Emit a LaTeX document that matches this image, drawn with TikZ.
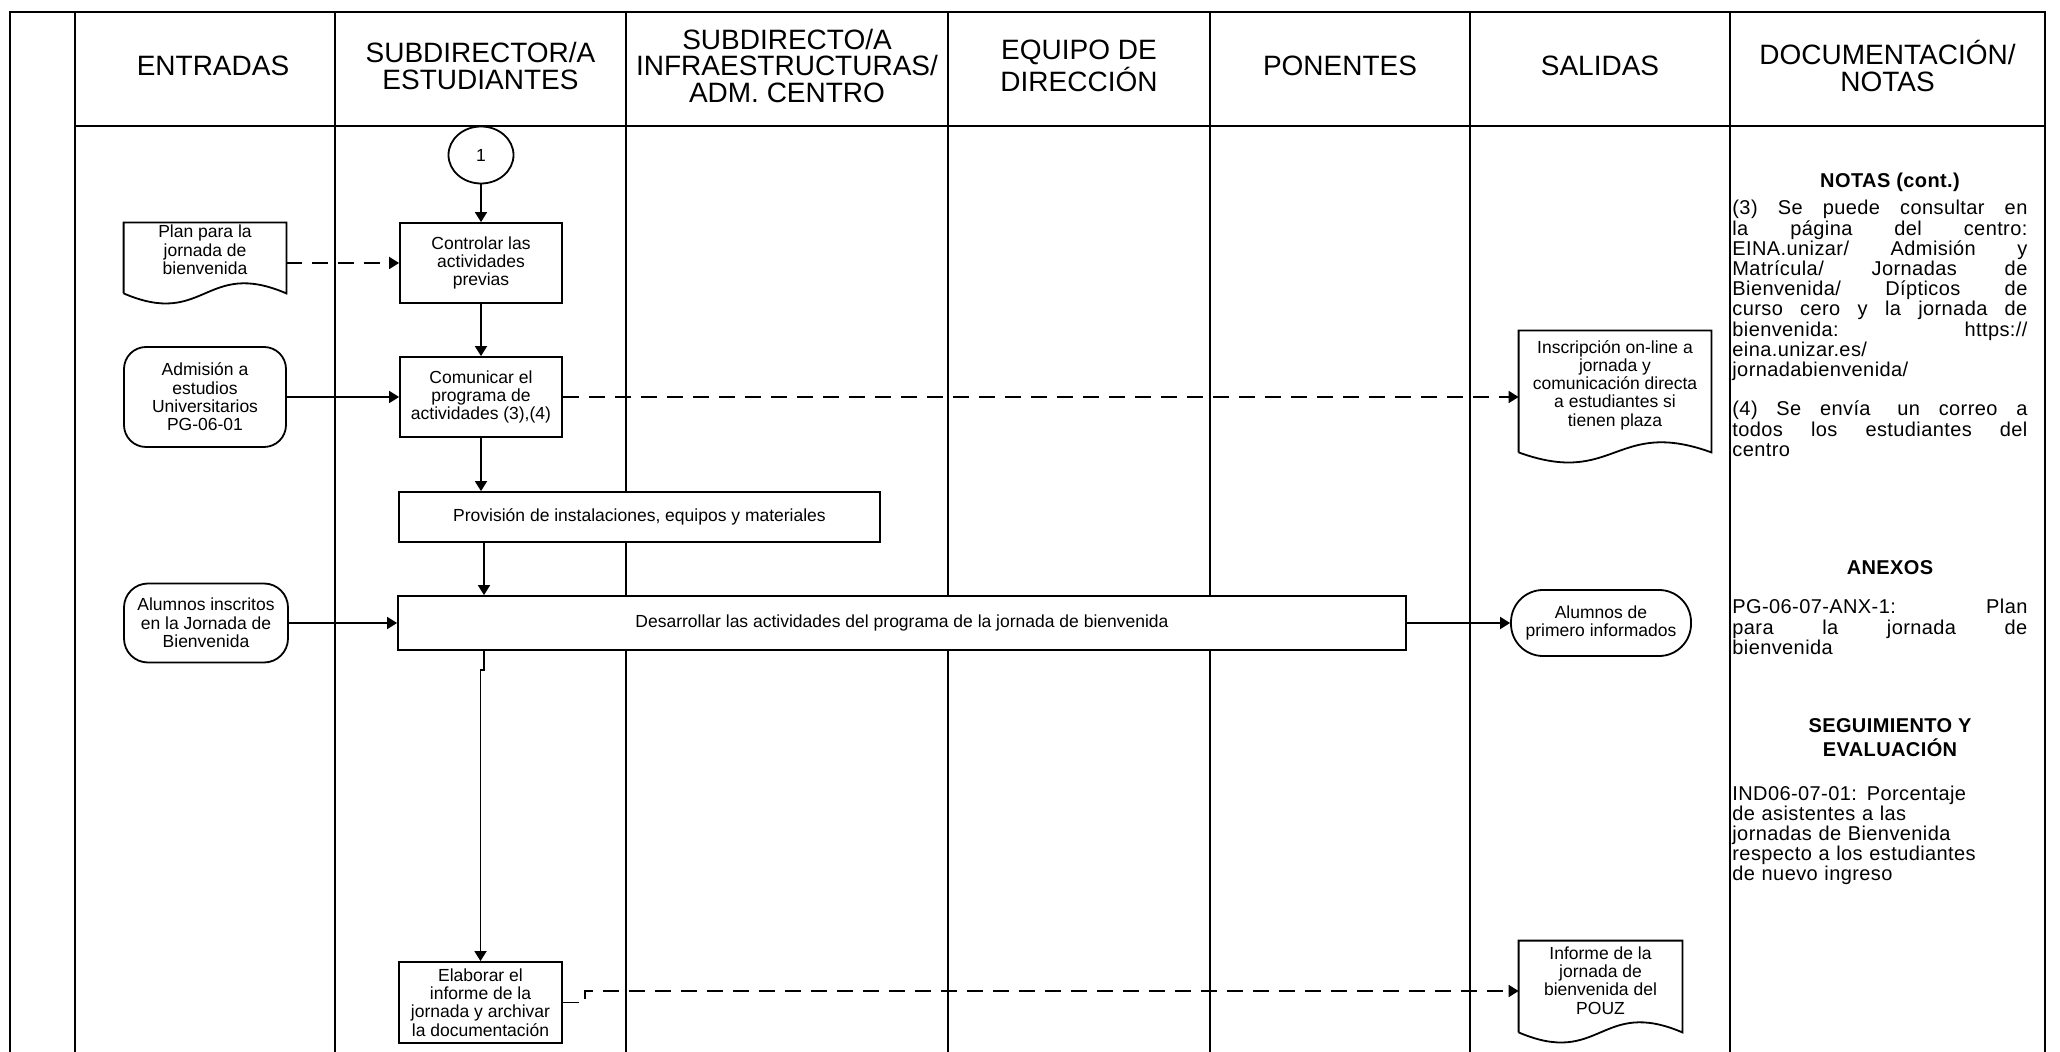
\documentclass[tikz,border=0pt]{standalone}
\usepackage{fontspec}
\setmainfont{Liberation Sans}
\newfontfamily\notesfamily[LetterSpace=2]{Liberation Sans}
\usetikzlibrary{arrows.meta,shapes.geometric}
\newcommand\hdrfnt{\fontsize{14}{13.2}\selectfont}
\newcommand\nodefnt{\fontsize{8.75}{9.15}\selectfont}
\newcommand\notefnt{\notesfamily\fontsize{10}{10.1}\selectfont}
\newcommand\jline[1]{\leavevmode\hbox to 147.5pt{#1}}
\begin{document}
\begin{tikzpicture}[x=0.5pt,y=-0.5pt,
  lane/.style={line width=1.3pt},
  box/.style={draw, fill=white, line width=0.9pt, align=center, font=\nodefnt, inner sep=1pt},
  rbox/.style={box, rounded corners=#1},
  docn/.style={align=center, font=\nodefnt, inner sep=1pt},
  docline/.style={line width=0.9pt},
  arr/.style={line width=0.9pt, -{Triangle[length=5pt,width=6pt]}},
  darr/.style={arr, dash pattern=on 8pt off 5pt},
  hdr/.style={align=center, font=\hdrfnt},
  note/.style={font=\notefnt, text width=147.5pt, align=left, inner sep=0pt, anchor=base west},
  notehd/.style={font=\notefnt\bfseries, inner sep=0pt, anchor=base}
]
\useasboundingbox (0,0) rectangle (2060,1052);
\fill[white] (0,0) rectangle (2060,1052);
% swimlane grid
\draw[lane] (10,1052) -- (10,12) -- (2045,12) -- (2045,1052);
\foreach \x in {75,335,626,948,1210,1470,1730} \draw[lane] (\x,12) -- (\x,1052);
\draw[lane] (75,126) -- (2045,126);
% headers
\node[hdr] (h1) at (213,66) {ENTRADAS};
\node[hdr] (h2) at (480.5,66) {SUBDIRECTOR/A\\ESTUDIANTES};
\node[hdr] (h3) at (787,66) {SUBDIRECTO/A\\INFRAESTRUCTURAS/\\ADM. CENTRO};
\node[hdr] (h4) at (1079,66) {EQUIPO DE\\DIRECCIÓN};
\node[hdr] (h5) at (1340,66) {PONENTES};
\node[hdr] (h6) at (1600,66) {SALIDAS};
\node[hdr] (h7) at (1887.5,66) {DOCUMENTACIÓN/\\NOTAS};
% flow nodes
\node[draw, ellipse, line width=0.9pt, minimum width=32.5pt, minimum height=28.5pt, inner sep=0pt, font=\nodefnt] (c1) at (481,155) {1};
\node[box, minimum width=81pt, minimum height=40pt] (ctl) at (481,263) {Controlar las\\actividades\\previas};
\node[docn, minimum width=81pt, minimum height=35pt] (plan) at (205,250) {Plan para la\\jornada de\\bienvenida};
\node[rbox=11pt, minimum width=81pt, minimum height=50pt] (adm) at (205,397) {Admisión a\\estudios\\Universitarios\\PG-06-01};
\node[box, minimum width=81pt, minimum height=40pt] (com) at (481,397) {Comunicar el\\programa de\\actividades (3),(4)};
\node[box, minimum width=240.5pt, minimum height=25pt] (prov) at (639.5,517) {Provisión de instalaciones, equipos y materiales};
\node[box, minimum width=504pt, minimum height=27pt] (des) at (902,623) {Desarrollar las actividades del programa de la jornada de bienvenida};
\node[rbox=12pt, minimum width=82pt, minimum height=39.5pt] (ali) at (206,623) {Alumnos inscritos\\en la Jornada de\\Bienvenida};
\node[rbox=16pt, minimum width=90pt, minimum height=33pt] (alp) at (1601,623) {Alumnos de\\primero informados};
\node[docn, minimum width=96pt, minimum height=60.5pt] (insc) at (1615,385) {Inscripción on-line a\\jornada y\\comunicación directa\\a estudiantes si\\tienen plaza};
\node[box, minimum width=81.5pt, minimum height=40.5pt] (elab) at (480.5,1002.5) {Elaborar el\\informe de la\\jornada y archivar\\la documentación};
\node[docn, minimum width=81.5pt, minimum height=45.5pt] (inf) at (1600.5,980.5) {Informe de la\\jornada de\\bienvenida del\\POUZ};
% document outlines (text sits a little above the middle)
\foreach \n/\s in {plan/4pt,insc/3.25pt,inf/3pt}
  \draw[docline] ([yshift=-\s]\n.south west) -- ([yshift=-\s]\n.north west) -- ([yshift=-\s]\n.north east) -- ([yshift=-\s]\n.south east)
    .. controls ([yshift=17.5pt-\s]\n.south) and ([yshift=-17.5pt-\s]\n.south) .. ([yshift=-\s]\n.south west);
% connectors
\coordinate (j2) at (484,670);
\coordinate (j1) at (585,991);
\draw[arr] (c1) -- (ctl);
\draw[arr] (ctl) -- (com);
\draw[arr] (com) -- (com |- prov.north);
\draw[arr] (prov.south -| j2) -- (des.north -| j2);
\draw[arr] (des.south -| j2) -- (j2) -- (j2 -| elab.north) -- (elab.north);
\draw[darr] (plan.east |- ctl.west) -- (ctl.west);
\draw[arr] (adm) -- (com);
\draw[darr] (com.east) -- (com.east -| insc.west);
\draw[arr] (ali.east) -- (ali.east -| des.west);
\draw[arr] (des.east) -- (alp.west);
\draw[darr] (elab.east) -- (elab.east -| j1) -- (j1) -- (j1 -| inf.west);
% notes column
\node[notehd] (n0) at (1890,188) {NOTAS (cont.)};
\node[note] (n1) at (1732,215) {\jline{(3)\hfill Se\hfill puede\hfill consultar\hfill en}\\\jline{la\hfill página\hfill del\hfill centro:}\\\jline{EINA.unizar/\hfill Admisión\hfill y}\\\jline{Matrícula/\hfill Jornadas\hfill de}\\\jline{Bienvenida/\hfill Dípticos\hfill de}\\\jline{curso\hfill cero\hfill y\hfill la\hfill jornada\hfill de}\\\jline{bienvenida:\hfill https://}\\eina.unizar.es/\\jornadabienvenida/};
\node[note] (n2) at (1732,416) {\jline{(4)\hfill Se\hfill envía\hspace{4pt}\hfill un\hfill correo\hfill a}\\\jline{todos\hfill los\hfill estudiantes\hfill del}\\centro};
\node[notehd] (n3) at (1890,575) {ANEXOS};
\node[note] (n4) at (1732,614) {\jline{PG-06-07-ANX-1:\hfill Plan}\\\jline{para\hfill la\hfill jornada\hfill de}\\bienvenida};
\node[notehd] (n5) at (1890,732) {SEGUIMIENTO Y};
\node[notehd] (n6) at (1890,756) {EVALUACIÓN};
\node[note] (n7) at (1732,800) {IND06-07-01: Porcentaje\\de asistentes a las\\jornadas de Bienvenida\\respecto a los estudiantes\\de nuevo ingreso};
\end{tikzpicture}
\end{document}
